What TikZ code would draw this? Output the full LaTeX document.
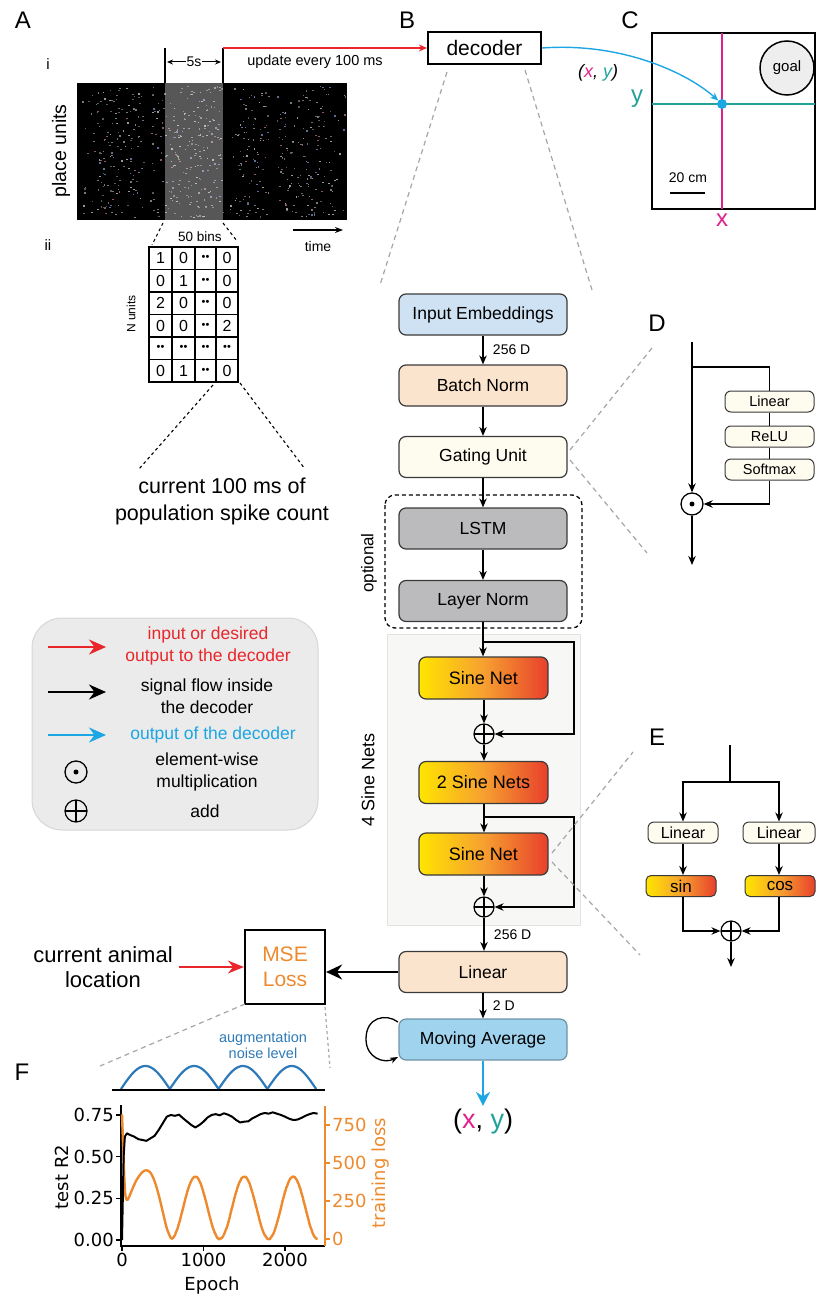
\documentclass[tikz,border=0pt]{standalone}
\usepackage{fontspec}
\setmainfont{Liberation Sans}
\newfontfamily\plotfont{DejaVu Sans}
\usetikzlibrary{arrows.meta,calc}
\newcommand\fz[2]{\fontsize{#1}{#2}\selectfont}
\newcommand\dd{{\fontsize{11}{11}\selectfont\textbullet\hspace{0.3pt}\textbullet}}
\definecolor{myred}{HTML}{E8262B}
\definecolor{mycyan}{HTML}{1CA6E3}
\definecolor{mymag}{HTML}{E0218A}
\definecolor{myteal}{HTML}{21A39A}
\definecolor{myorange}{HTML}{EE8A2E}
\definecolor{noiseblue}{HTML}{2E7AB8}
\definecolor{embblue}{HTML}{CFE2F3}
\definecolor{mablue}{HTML}{9FD3EE}
\definecolor{peach}{HTML}{FBE4CD}
\definecolor{cream}{HTML}{FEFBEF}
\definecolor{lstmgrey}{HTML}{BBBBBD}
\definecolor{legbg}{HTML}{EBEBEB}
\definecolor{legbd}{HTML}{D6D6D6}
\definecolor{sinebg}{HTML}{F7F7F5}
\definecolor{sinebd}{HTML}{E3E3E3}
\definecolor{gradY}{HTML}{FFE500}
\definecolor{gradO}{HTML}{F6A030}
\definecolor{gradR}{HTML}{E8402C}
\definecolor{boxbd}{HTML}{3A3A3A}
\definecolor{goalbg}{HTML}{EEEEEE}
\definecolor{dotc0}{HTML}{7A7A7A}
\definecolor{dotc1}{HTML}{8A5A66}
\definecolor{dotc2}{HTML}{5E6E92}
\definecolor{dotc3}{HTML}{9A9A9A}
\definecolor{dotc4}{HTML}{5A5A5A}
\begin{document}
\begin{tikzpicture}[x=1pt,y=-1pt,
  box/.style={draw=boxbd, line width=1.2pt, rounded corners=7pt, minimum width=168pt, minimum height=41pt, inner sep=0pt, font=\fz{17.5}{20}},
  sine/.style={draw=boxbd, line width=1.2pt, rounded corners=7pt, minimum width=129pt, minimum height=42pt, inner sep=0pt, left color=gradY, right color=gradR, middle color=gradO, font=\fz{18}{20}},
  smallbox/.style={draw=boxbd, line width=1pt, rounded corners=6pt, minimum width=89pt, minimum height=21pt, inner sep=0pt, fill=cream, font=\fz{14.5}{16}},
  smallgrad/.style={draw=boxbd, line width=1pt, rounded corners=5pt, minimum width=70pt, minimum height=21pt, inner sep=0pt, left color=gradY, right color=gradR, middle color=gradO, font=\fz{17}{18}},
  blk/.style={line width=1.3pt, -{Stealth[length=9pt,width=7.5pt]}},
  redarr/.style={myred, line width=1.6pt, -{Stealth[length=16pt,width=13pt]}},
  addc/.style={circle, draw, line width=1.2pt, minimum size=20pt, inner sep=0pt, path picture={\draw[line width=1.2pt] (path picture bounding box.north) -- (path picture bounding box.south) (path picture bounding box.west) -- (path picture bounding box.east);}},
  mulc/.style={circle, draw, line width=1.3pt, minimum size=22pt, inner sep=0pt, path picture={\fill (path picture bounding box.center) circle (2.5pt);}},
  guide/.style={gray!70, line width=1.2pt, dash pattern=on 5pt off 4pt},
  plab/.style={font=\fz{24}{26}},
]
\useasboundingbox (0,0) rectangle (817,1297);

% ---------- panel labels ----------
\node[plab] (labA) at (23,20) {A};
\node[plab] (labB) at (407,20) {B};
\node[plab] (labC) at (630,20) {C};
\node[plab] (labD) at (657,323) {D};
\node[plab] (labE) at (657,737) {E};
\node[plab] (labF) at (22,1072) {F};
\node[font=\fz{15}{16}] (li) at (48,64) {i};
\node[font=\fz{15}{16}] (lii) at (48,245) {ii};

% ---------- panel A raster ----------
\node[fill=black, minimum width=270pt, minimum height=137pt, inner sep=0pt] (raster) at (212,151.5) {};
\pgfmathsetseed{7}
\foreach \xa/\w/\n in {80/18/20, 97/46/150, 150/14/35, 165/58/200, 226/12/10, 238/30/90, 276/58/160, 334/12/10} {
  \foreach \i in {1,...,\n} {
    \pgfmathsetmacro\xx{\xa+rnd*\w}
    \pgfmathsetmacro\yy{86+rnd*131}
    \pgfmathtruncatemacro\cc{rnd*5}
    \fill[dotc\cc] (\xx,\yy) rectangle ++(1.6,1.2);
  }
}
\fill[white, opacity=0.34] (165,83) rectangle (223,220);
\node[rotate=90, font=\fz{19.5}{22}] (pu) at (61,151) {place units};
\coordinate (wl) at (165,48);
\coordinate (wr) at (223,48);
\draw[line width=1.3pt] (wl) -- (165,83);
\draw[line width=1.3pt] (wr) -- (223,83);
\draw[line width=1pt, {Stealth[length=6pt,width=5pt]}-{Stealth[length=6pt,width=5pt]}] (167,62) -- (221,62) node[midway, fill=white, inner sep=1pt, font=\fz{14}{15}] {5s};
\node[font=\fz{14.5}{16}] (upd) at (315,62) {update every 100 ms};
\coordinate (t1) at (293,230);
\coordinate (t2) at (343,230);
\draw[line width=1.4pt, -{Stealth[length=8pt,width=6pt]}] (t1) -- (t2);
\node[font=\fz{14}{15}] (timel) at (318,246) {time};

% ---------- table ----------
\node[minimum width=89pt, minimum height=135pt, inner sep=0pt] (tab) at (193.5,314.5) {};
\draw[line width=1.3pt] (149,247) rectangle (238,382);
\foreach \xc in {172,195,216} \draw[line width=1.3pt] (\xc,247) -- (\xc,382);
\foreach \k in {1,...,5} \draw[line width=1.3pt] (149,{247+22.5*\k}) -- (238,{247+22.5*\k});
\foreach \r/\a/\b/\c/\d in {0/1/0/\dd/0, 1/0/1/\dd/0, 2/2/0/\dd/0, 3/0/0/\dd/2, 4/\dd/\dd/\dd/\dd, 5/0/1/\dd/0} {
  \node[font=\fz{16}{18}] at (160.5,{258.25+22.5*\r}) {\a};
  \node[font=\fz{16}{18}] at (183.5,{258.25+22.5*\r}) {\b};
  \node[font=\fz{16}{18}] at (205.5,{258.25+22.5*\r}) {\c};
  \node[font=\fz{16}{18}] at (227,{258.25+22.5*\r}) {\d};
}
\node[font=\fz{13.5}{15}] (bins) at (200,237) {50 bins};
\node[rotate=90, font=\fz{12}{13}] (nunits) at (131,314) {N units};
\draw[line width=1.1pt, dash pattern=on 3pt off 3pt] (163,223) -- (152,245);
\draw[line width=1.1pt, dash pattern=on 3pt off 3pt] (223,223) -- (237,241);
\draw[line width=1.1pt, dash pattern=on 3pt off 3pt] (213,385) -- (139,469);
\draw[line width=1.1pt, dash pattern=on 3pt off 3pt] (240,383) -- (305,469);
\node[align=center, font=\fz{21.5}{27}] (cur) at (222,501) {current 100 ms of\\population spike count};

% ---------- decoder (B) ----------
\node[draw, line width=2.2pt, minimum width=113pt, minimum height=32pt, inner sep=0pt, font=\fz{21}{24}] (dec) at (484.5,48) {decoder};
\draw[myred, line width=1.4pt, -{Stealth[length=8pt,width=7pt]}] (wr) -- (dec.west);
\draw[guide] (447,72) -- (380,285);
\draw[guide] (525,70) -- (592,290);

% ---------- panel C ----------
\draw[line width=2pt] (652,33) rectangle (815,209);
\draw[mymag, line width=2pt] (722,33) -- (722,209);
\draw[myteal, line width=2pt] (652,104) -- (815,104);
\node[circle, fill=mycyan, minimum size=10pt, inner sep=0pt] (pos) at (722,104) {};
\node[circle, draw, line width=1.5pt, fill=goalbg, minimum size=54pt, inner sep=0pt, font=\fz{15}{16}] (goal) at (787,68) {goal};
\draw[line width=2.2pt] (670,193) -- (705,193);
\node[font=\fz{14}{15}] (scale) at (688,178) {20 cm};
\node[myteal, font=\fz{24}{26}] (ylab) at (637,99) {y};
\node[mymag, font=\fz{24}{26}] (xlab) at (722,220) {x};
\draw[mycyan, line width=1.4pt, -{Stealth[length=8pt,width=7pt]}] (dec.east) .. controls (625,42) and (690,75) .. (pos);
\node[font=\fz{18}{20}\itshape] (xyl) at (598,73) {({\color{mymag}x}, {\color{myteal}y})};

% ---------- main column ----------
\node[box, fill=embblue] (emb) at (483,314.5) {Input Embeddings};
\node[box, fill=peach] (bn) at (483,385.5) {Batch Norm};
\node[box, fill=cream] (gate) at (483,457) {Gating Unit};
\draw[line width=1.3pt, rounded corners=10pt, dash pattern=on 4pt off 3pt] (385,495) rectangle (582,628);
\node[box, fill=lstmgrey] (lstm) at (483,528.5) {LSTM};
\node[box, fill=lstmgrey] (ln) at (483,601) {Layer Norm};
\node[rotate=90, font=\fz{17}{18}] (opt) at (369,563) {optional};

\fill[sinebg, draw=sinebd, line width=1pt] (387,634) rectangle (580,925);
\node[rotate=90, font=\fz{18}{20}] (fsn) at (368,780) {4 Sine Nets};
\node[sine] (s1) at (483.5,678) {Sine Net};
\node[addc] (p1) at (484,734) {};
\node[sine] (s2) at (483.5,782.5) {2 Sine Nets};
\node[sine] (s3) at (483.5,854) {Sine Net};
\node[addc] (p2) at (484,907) {};
\node[box, fill=peach] (lin) at (483,972) {Linear};
\node[box, fill=mablue, draw=mablue!70!black] (ma) at (483,1039.5) {Moving Average};
\node[font=\fz{27}{30}] (xyout) at (483,1122) {({\color{mymag}x}, {\color{myteal}y})};

\draw[blk] (emb.south) -- (bn.north) node[midway, right=6pt, font=\fz{14}{15}] {256 D};
\draw[blk] (bn.south) -- (gate.north);
\draw[blk] (gate.south) -- (lstm.north);
\draw[blk] (lstm.south) -- (ln.north);
\coordinate (j1) at (484,642);
\coordinate (r1) at (574,642);
\draw[blk] (ln.south) -- (s1.north -| ln.south);
\draw[blk] (j1) -- (r1) |- (p1.east);
\draw[blk] (s1.south -| p1) -- (p1.north);
\draw[blk] (p1.south) -- (s2.north -| p1);
\coordinate (j2) at (484,817);
\coordinate (r2) at (574,817);
\draw[blk] (s2.south -| p1) -- (s3.north -| p1);
\draw[blk] (j2) -- (r2) |- (p2.east);
\draw[blk] (s3.south -| p2) -- (p2.north);
\draw[blk] (p2.south) -- (lin.north -| p2) node[midway, right=6pt, font=\fz{14}{15}] {256 D};
\draw[blk] (lin.south) -- (ma.north) node[midway, right=6pt, font=\fz{14}{15}] {2 D};
\draw[mycyan, line width=2.4pt, -{Stealth[length=14pt,width=14pt]}] (ma.south) -- (xyout.north);
\coordinate (lp1) at (398,1022);
\coordinate (lp2) at (398,1057);
\draw[line width=1.3pt, -{Stealth[length=8pt,width=6pt]}] (lp1) .. controls (386,1013) and (366,1017) .. (366,1039) .. controls (366,1058) and (384,1064) .. (lp2);

% ---------- MSE ----------
\node[draw, line width=2.2pt, minimum width=80pt, minimum height=74pt, inner sep=0pt, align=center, text=myorange, font=\fz{21}{25}] (mse) at (285,967) {MSE\\Loss};
\draw[line width=2pt, -{Stealth[length=16pt,width=15pt]}] (lin.west) -- (mse.east |- lin.west);
\node[align=center, font=\fz{22}{25}] (cal) at (103,967) {current animal\\location};
\draw[redarr] (cal.east) ++(3,0) coordinate (cale) -- (mse.west);
\draw[guide] (245,1004) -- (100,1066);
\draw[guide, dash pattern=on 3pt off 3pt] (325,1007) -- (330,1068);

% ---------- D ----------
\coordinate (dtop) at (692,342);
\coordinate (dbr) at (692,367);
\coordinate (dend) at (692,565);
\node[smallbox] (dlin) at (769.5,401.5) {Linear};
\node[smallbox] (drelu) at (769.5,436.5) {ReLU};
\node[smallbox] (dsoft) at (769.5,469.5) {Softmax};
\node[mulc] (dodot) at (692,504) {};
\draw[line width=1.3pt] (dbr) -| (dlin.north);
\draw[line width=1.3pt] (dlin.south) -- (drelu.north);
\draw[line width=1.3pt] (drelu.south) -- (dsoft.north);
\draw[blk] (dsoft.south) |- (dodot.east);
\draw[blk] (dtop) -- (dodot.north);
\draw[blk] (dodot.south) -- (dend);
\draw[guide] (570,450) -- (652,348);
\draw[guide] (570,460) -- (647,553);

% ---------- E ----------
\coordinate (etop) at (730,745);
\coordinate (ebr) at (730,782);
\node[smallbox, minimum width=70pt, font=\fz{16}{17}] (elin1) at (683,832.5) {Linear};
\node[smallbox, minimum width=72pt, font=\fz{16}{17}] (elin2) at (779,832.5) {Linear};
\node[smallgrad] (esin) at (681,886) {sin};
\node[smallgrad] (ecos) at (780,886) {cos};
\node[addc] (eplus) at (731,931) {};
\coordinate (eend) at (731,967);
\draw[line width=1.3pt] (etop) -- (ebr);
\draw[blk] (ebr) -| (elin1.north);
\draw[blk] (ebr) -| (elin2.north);
\draw[blk] (elin1.south) -- (esin.north -| elin1.south);
\draw[blk] (elin2.south) -- (ecos.north -| elin2.south);
\draw[blk] (esin.south -| elin1.south) |- (eplus.west);
\draw[blk] (ecos.south -| elin2.south) |- (eplus.east);
\draw[blk] (eplus.south) -- (eend);
\draw[guide] (552,853) -- (633,752);
\draw[guide] (552,862) -- (640,955);

% ---------- legend ----------
\node[draw=legbd, fill=legbg, line width=1pt, rounded corners=30pt, minimum width=286pt, minimum height=212pt] (leg) at (175,724) {};
\draw[myred, line width=2.4pt, -{Stealth[length=17pt,width=15pt]}] (48,647) -- (106,647);
\draw[black, line width=2.4pt, -{Stealth[length=17pt,width=15pt]}] (48,692) -- (106,692);
\draw[mycyan, line width=2.4pt, -{Stealth[length=17pt,width=15pt]}] (48,735) -- (106,735);
\node[mulc] (lmul) at (76,772) {};
\node[addc, minimum size=22pt] (ladd) at (76,811) {};
\node[align=center, text=myred, font=\fz{17.5}{22}] (lt1) at (208,646) {input or desired\\output to the decoder};
\node[align=center, font=\fz{17.5}{22}] (lt2) at (207,696) {signal flow inside\\the decoder};
\node[text=mycyan, font=\fz{17.5}{22}] (lt3) at (213,735) {output of the decoder};
\node[align=center, font=\fz{17.5}{22}] (lt4) at (207,772) {element-wise\\multiplication};
\node[font=\fz{17.5}{22}] (lt5) at (205,811) {add};

% ---------- F ----------
\node[text=noiseblue, align=center, font=\fz{14.5}{16}] (noisel) at (263,1045) {augmentation\\noise level};
\draw[noiseblue, line width=2.2pt] plot[domain=0:2400, samples=161] ({121+\x*0.0813},{1089-23*abs(sin(\x*0.3))});
\draw[line width=2.2pt] (112,1090) -- (325,1090);

\draw[line width=1.8pt] (121,1105) -- (121,1246) -- (325,1246);
\draw[myorange, line width=1.8pt] (325,1106) -- (325,1246);
\begin{scope}[font=\plotfont\fz{18}{20}]
\foreach \v/\l in {0/0.00, 0.25/0.25, 0.5/0.50, 0.75/0.75} {
  \draw[line width=1.3pt] (121,{1240-166.7*\v}) -- (116,{1240-166.7*\v});
  \node[anchor=east, inner sep=1pt] at (115,{1240-166.7*\v}) {\l};
}
\foreach \v in {0,250,500,750} {
  \draw[myorange, line width=1.3pt] (325,{1239-0.152*\v}) -- (330,{1239-0.152*\v});
  \node[anchor=west, text=myorange, inner sep=1pt] at (331,{1239-0.152*\v}) {\v};
}
\foreach \e in {0,1000,2000} {
  \draw[line width=1.3pt] ({122+0.0815*\e},1246) -- ({122+0.0815*\e},1251);
  \node[anchor=north, inner sep=1pt] at ({122+0.0815*\e},1252) {\e};
}
\node (epoch) at (212,1286) {Epoch};
\node[rotate=90] (r2l) at (62,1177) {test R2};
\node[rotate=90, text=myorange] (tll) at (381,1173) {training loss};
\end{scope}

\begin{scope}[shift={(122,1239)}, x=0.0815pt, y=0.152pt]
\draw[myorange, line width=2.4pt, line join=round] plot[smooth, tension=0.6] coordinates {(0,820) (15,600) (35,330) (55,260) (80,268) (120,320) (180,390) (250,440) (300,452) (350,436) (400,380) (450,290) (500,180) (550,70) (600,5)};
\draw[myorange, line width=2.4pt, line join=round] plot[domain=600:2400, samples=180] (\x,{205*(1-cos(\x*0.6))+6*rnd-3});
\end{scope}
\begin{scope}[shift={(122,1240)}, x=0.0815pt, y=166.7pt]
\draw[black, line width=2pt, line join=round] plot coordinates {(0,0.0) (10,0.25) (20,0.5) (35,0.62) (60,0.64) (100,0.63) (150,0.62) (200,0.605) (250,0.6) (300,0.595) (350,0.61) (400,0.625) (450,0.66) (500,0.7) (550,0.74) (600,0.75) (650,0.745) (700,0.752) (750,0.73) (800,0.71) (850,0.69) (900,0.675) (950,0.69) (1000,0.71) (1050,0.735) (1100,0.75) (1150,0.755) (1200,0.748) (1250,0.76) (1300,0.752) (1350,0.74) (1400,0.72) (1450,0.705) (1500,0.71) (1550,0.712) (1600,0.73) (1650,0.742) (1700,0.755) (1750,0.762) (1800,0.758) (1850,0.766) (1900,0.758) (1950,0.75) (2000,0.74) (2050,0.728) (2100,0.72) (2150,0.722) (2200,0.732) (2250,0.745) (2300,0.755) (2350,0.762) (2400,0.758)};
\end{scope}
\end{tikzpicture}
\end{document}
